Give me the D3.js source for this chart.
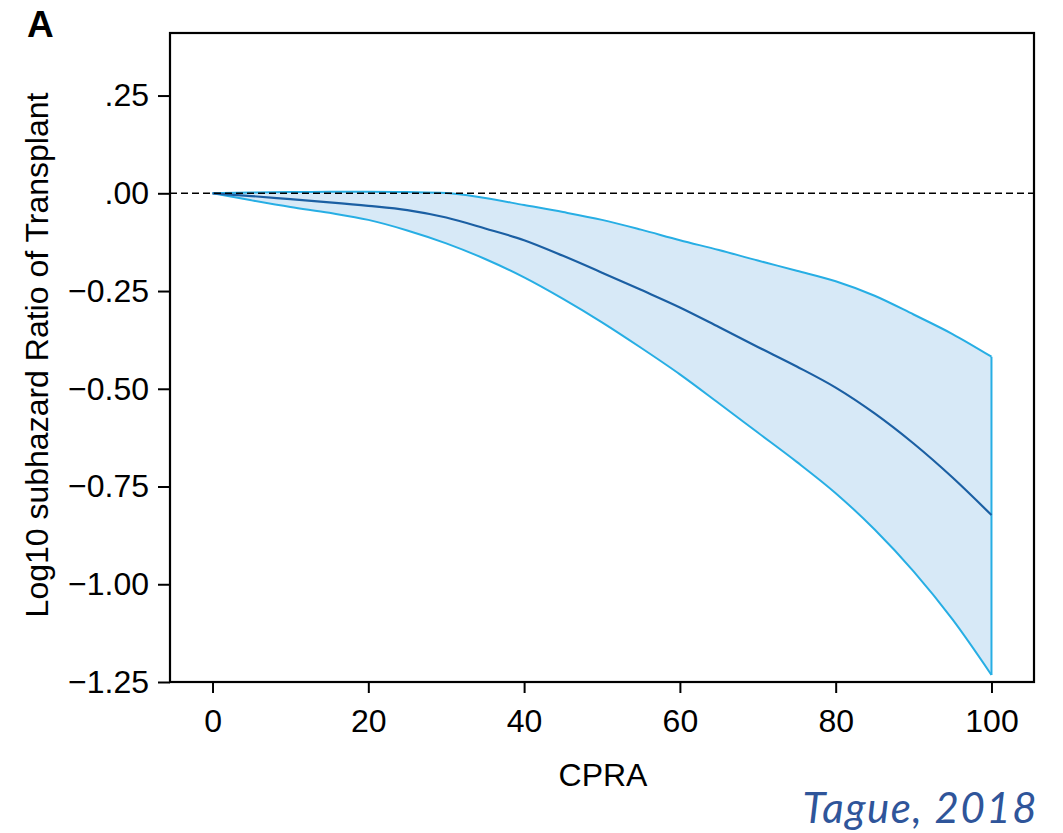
<!DOCTYPE html>
<html>
<head>
<meta charset="utf-8">
<script src="https://cdn.jsdelivr.net/npm/d3@7"></script>
<style>
  body { margin: 0; background: #fff; }
  text { font-family: "Liberation Sans", Arial, sans-serif; }
</style>
</head>
<body>
<div id="chart"></div>
<script>
// data
var cpra = [0, 5, 10, 15, 20, 25, 30, 35, 40, 45, 50, 55, 60, 65, 70, 75, 80, 85, 90, 95, 100];
var estimate = [0, -0.007, -0.015, -0.023, -0.032, -0.043, -0.062, -0.090, -0.120, -0.160, -0.203,
                -0.247, -0.292, -0.342, -0.393, -0.443, -0.497, -0.563, -0.640, -0.727, -0.823];
var upperCI = [0, 0.002, 0.003, 0.004, 0.004, 0.003, 0.001, -0.012, -0.030, -0.048, -0.068,
               -0.093, -0.120, -0.145, -0.172, -0.198, -0.225, -0.262, -0.310, -0.360, -0.418];
var lowerCI = [0, -0.018, -0.035, -0.050, -0.068, -0.095, -0.128, -0.168, -0.215, -0.270, -0.330,
               -0.395, -0.463, -0.537, -0.612, -0.687, -0.767, -0.860, -0.967, -1.090, -1.232];
var xTicks = [0, 20, 40, 60, 80, 100];
var yTicks = [0.25, 0, -0.25, -0.5, -0.75, -1.0, -1.25];
var yTickLabels = [".25", ".00", "\u22120.25", "\u22120.50", "\u22120.75", "\u22121.00", "\u22121.25"];

var rows = cpra.map((c, i) => ({ x: c, est: estimate[i], lo: lowerCI[i], hi: upperCI[i] }));

var margin = {top: 33, right: 29, bottom: 151, left: 170},
    width = 1063 - margin.left - margin.right,
    height = 833 - margin.top - margin.bottom;

var svg = d3.select("#chart")
  .append("svg")
    .attr("width", 1063)
    .attr("height", 833);

var g = svg.append("g")
    .attr("transform", "translate(" + margin.left + "," + margin.top + ")");

var x = d3.scaleLinear().domain([-5.46, 105.46]).range([0, width]);
var y = d3.scaleLinear().domain([-1.25, 0.41]).range([height, 0]);

// confidence band
g.append("path")
  .datum(rows)
  .attr("d", d3.area().x(d => x(d.x)).y0(d => y(d.lo)).y1(d => y(d.hi)).curve(d3.curveMonotoneX))
  .attr("fill", "#d7e9f7");

var lineCol = "#27aee4";
["hi", "lo"].forEach(k => {
  g.append("path")
    .datum(rows)
    .attr("d", d3.line().x(d => x(d.x)).y(d => y(d[k])).curve(d3.curveMonotoneX))
    .attr("fill", "none")
    .attr("stroke", lineCol)
    .attr("stroke-width", 2);
});

// closing edge of the band at CPRA 100
var last = rows[rows.length - 1];
g.append("line")
  .attr("x1", x(last.x)).attr("x2", x(last.x))
  .attr("y1", y(last.hi)).attr("y2", y(last.lo))
  .attr("stroke", lineCol)
  .attr("stroke-width", 2);

// estimate
g.append("path")
  .datum(rows)
  .attr("d", d3.line().x(d => x(d.x)).y(d => y(d.est)).curve(d3.curveMonotoneX))
  .attr("fill", "none")
  .attr("stroke", "#1b5fa3")
  .attr("stroke-width", 2.2);

// zero reference line
g.append("line")
  .attr("x1", 0).attr("x2", width)
  .attr("y1", y(0)).attr("y2", y(0))
  .attr("stroke", "#000")
  .attr("stroke-width", 1.6)
  .attr("stroke-dasharray", "7,4");

// axes
var xAxis = g.append("g")
  .attr("transform", "translate(0," + height + ")")
  .call(d3.axisBottom(x).tickValues(xTicks).tickSize(11).tickPadding(16).tickFormat(d3.format("d")));

var yAxis = g.append("g")
  .call(d3.axisLeft(y).tickValues(yTicks).tickSize(12).tickPadding(9)
        .tickFormat((d, i) => yTickLabels[i]));

[xAxis, yAxis].forEach(a => {
  a.select(".domain").remove();
  a.selectAll(".tick line").attr("stroke", "#000").attr("stroke-width", 2);
  a.selectAll(".tick text")
    .attr("fill", "#000")
    .style("font-family", "'Liberation Sans', Arial, sans-serif")
    .style("font-size", "32px");
});

// frame
g.append("rect")
  .attr("x", 0).attr("y", 0)
  .attr("width", width).attr("height", height)
  .attr("fill", "none")
  .attr("stroke", "#000")
  .attr("stroke-width", 2.2);

// labels
svg.append("text")
  .attr("x", 603).attr("y", 786)
  .attr("text-anchor", "middle")
  .style("font-size", "32px")
  .text("CPRA");

svg.append("text")
  .attr("transform", "translate(48,355) rotate(-90)")
  .attr("text-anchor", "middle")
  .style("font-size", "32px")
  .text("Log10 subhazard Ratio of Transplant");

svg.append("text")
  .attr("x", 27).attr("y", 37)
  .style("font-size", "37px")
  .style("font-weight", "bold")
  .text("A");

svg.append("text")
  .attr("x", 1038).attr("y", 823)
  .attr("text-anchor", "end")
  .style("font-family", "Lato, 'Open Sans', sans-serif")
  .style("font-style", "italic")
  .style("font-size", "42px")
  .style("letter-spacing", "1.5px")
  .attr("fill", "#2f559a")
  .text("Tague, 2018");
</script>
</body>
</html>
